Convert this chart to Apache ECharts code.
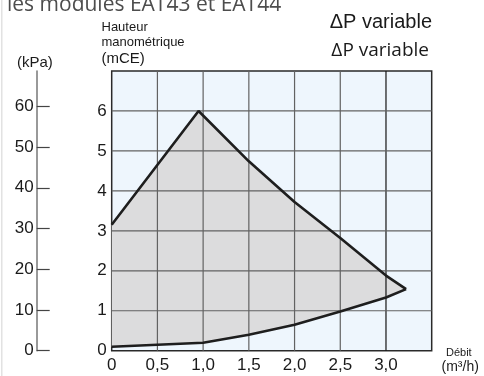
<!DOCTYPE html>
<html>
<head>
<meta charset="utf-8">
<script src="https://cdn.jsdelivr.net/npm/echarts@6/dist/echarts.min.js"></script>
<style>
html,body{margin:0;padding:0;background:#fff;}
#c{width:484px;height:376px;}
</style>
</head>
<body>
<div id="c"></div>
<script>
// Flow (m3/h) and head (mCE)
var upperX = [0, 0.95, 1.5, 2.0, 2.5, 3.0, 3.22];
var upperY = [3.15, 6.0, 4.74, 3.72, 2.82, 1.88, 1.54];
var lowerX = [0, 0.5, 1.0, 1.5, 2.0, 2.5, 3.0, 3.22];
var lowerY = [0.1, 0.15, 0.2, 0.4, 0.65, 0.98, 1.33, 1.54];
var xTicks = [0, 0.5, 1.0, 1.5, 2.0, 2.5, 3.0];
var xTickLabels = ['0', '0,5', '1,0', '1,5', '2,0', '2,5', '3,0'];
var yTicks = [0, 1, 2, 3, 4, 5, 6];
var kPaTicks = [0, 10, 20, 30, 40, 50, 60];
var darkLineX = [3.0];
var xMax = 3.5, yMax = 7, kPaPerMCE = 9.81;

function pairs(xs, ys){ return xs.map(function(x,i){ return [x, ys[i]]; }); }
var upper = pairs(upperX, upperY);
var lower = pairs(lowerX, lowerY);

var GRID = '#626262';
var gridSeries = [];
xTicks.forEach(function(x){
  if (x <= 0) return;
  gridSeries.push({type: 'line', data: [[x, 0], [x, yMax]], symbol: 'none', z: 4, silent: true,
    lineStyle: {color: darkLineX.indexOf(x) >= 0 ? '#141414' : GRID, width: 1.2}});
});
yTicks.forEach(function(y){
  if (y <= 0) return;
  gridSeries.push({type: 'line', data: [[0, y], [xMax, y]], symbol: 'none', z: 4, silent: true,
    lineStyle: {color: GRID, width: 1.2}});
});

var chart = echarts.init(document.getElementById('c'), null, {renderer:'canvas'});
var FONT = '"Liberation Sans", Arial, sans-serif';
chart.setOption({
  animation: false,
  grid: {left: 111.7, top: 71, right: 52.3, bottom: 25.3, show: true,
         backgroundColor: '#eef6fd', borderColor: '#2a2a2a', borderWidth: 1.5},
  xAxis: {type: 'value', min: 0, max: xMax, interval: 0.5,
    axisLine: {show: false}, axisTick: {show: false}, splitLine: {show: false},
    axisLabel: {color: '#1a1a1a', fontSize: 17, fontFamily: FONT, margin: 6,
      customValues: xTicks,
      formatter: function(v){ var i = xTicks.indexOf(v); return i >= 0 ? xTickLabels[i] : ''; }}
  },
  yAxis: [{type: 'value', min: 0, max: yMax, interval: 1,
    axisLine: {show: false}, axisTick: {show: false}, splitLine: {show: false},
    axisLabel: {color: '#1a1a1a', fontSize: 17, fontFamily: FONT, margin: 5,
      customValues: yTicks}
  },{type: 'value', min: 0, max: yMax * kPaPerMCE, position: 'left', offset: 75,
    axisLine: {show: true, lineStyle: {color: '#777', width: 1.5}},
    axisTick: {show: true, inside: true, length: 13, customValues: kPaTicks, lineStyle: {color: '#444', width: 1.2}},
    splitLine: {show: false},
    axisLabel: {color: '#1a1a1a', fontSize: 17, fontFamily: FONT, margin: 3, customValues: kPaTicks}
  }],
  series: [{
    type: 'custom', z: 1, silent: true, clip: false,
    data: [[0, 0]],
    renderItem: function(params, api){
      var pts = upper.concat(lower.slice().reverse()).map(function(p){ return api.coord(p); });
      return {type: 'polygon', shape: {points: pts}, style: {fill: '#dcdcdd', stroke: null}};
    }
  }].concat(gridSeries).concat([{
    type: 'line', data: upper, symbol: 'none', z: 5, silent: true,
    lineStyle: {color: '#1e1e1e', width: 2.6}
  },{
    type: 'line', data: lower, symbol: 'none', z: 5, silent: true,
    lineStyle: {color: '#1e1e1e', width: 2.6}
  }]),
  graphic: [
    {type: 'rect', shape: {x: 1, y: 0, width: 1.5, height: 376}, style: {fill: '#e2e2e2'}, silent: true},
    {type: 'text', left: 7, top: -5, style: {text: 'les modules EAT43 et EAT44', font: '21px "Open Sans", sans-serif', fill: '#4d4d4d'}},
    {type: 'text', right: 52, top: 12, style: {text: '\u0394P variable', font: '20px ' + FONT, fill: '#1a1a1a'}},
    {type: 'text', right: 55, top: 41, style: {text: '\u0394P variable', font: '19px "Open Sans", sans-serif', fill: '#1a1a1a'}},
    {type: 'text', left: 101.5, top: 21, style: {text: 'Hauteur', font: '13px ' + FONT, fill: '#1a1a1a'}},
    {type: 'text', left: 101.5, top: 36, style: {text: 'manométrique', font: '13px ' + FONT, fill: '#1a1a1a'}},
    {type: 'text', left: 101.5, top: 51, style: {text: '(mCE)', font: '15px ' + FONT, fill: '#1a1a1a'}},
    {type: 'text', left: 17, top: 55, style: {text: '(kPa)', font: '15px ' + FONT, fill: '#1a1a1a'}},
    {type: 'text', left: 446, top: 347, style: {text: 'Débit', font: '11px ' + FONT, fill: '#1a1a1a'}},
    {type: 'text', left: 441.5, top: 360, style: {text: '(m³/h)', font: '14px ' + FONT, fill: '#1a1a1a'}}
  ]
});
</script>
</body>
</html>
